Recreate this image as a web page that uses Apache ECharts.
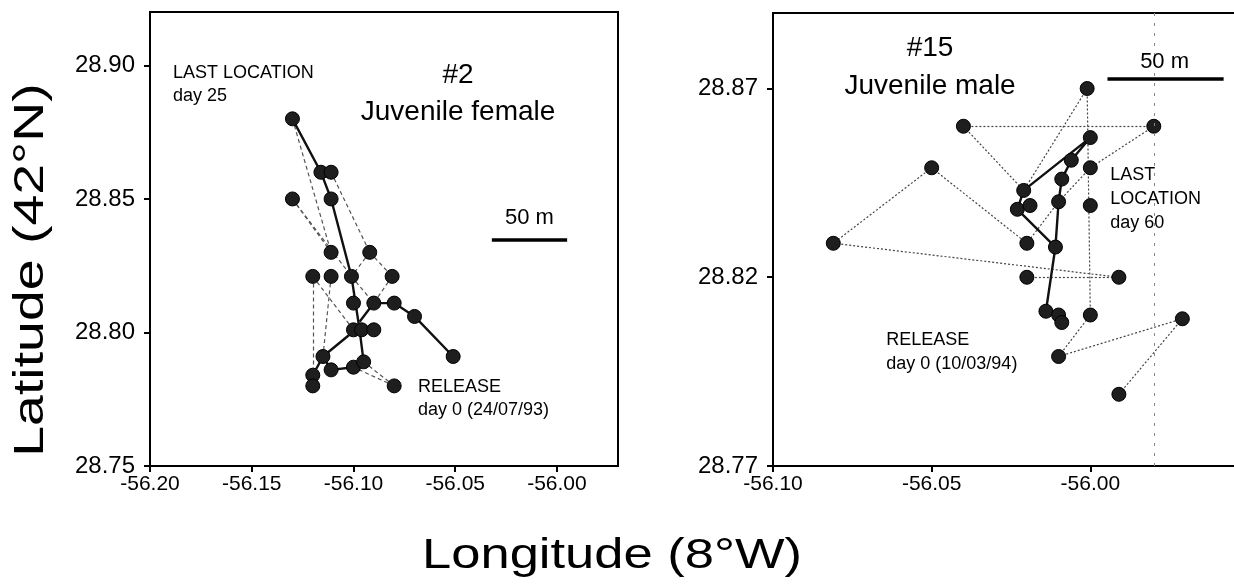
<!DOCTYPE html>
<html>
<head>
<meta charset="utf-8">
<title>Juvenile tracks</title>
<script src="https://cdn.jsdelivr.net/npm/echarts@6.0.0/dist/echarts.min.js"></script>
<style>
  html, body { margin: 0; padding: 0; background: #fff; }
  #main { width: 1234px; height: 585px; }
</style>
</head>
<body>
<div id="main"></div>
<script>
// tick values
var leftXTicks = [-56.20, -56.15, -56.10, -56.05, -56.00];
var leftYTicks = [28.75, 28.80, 28.85, 28.90];
var rightXTicks = [-56.10, -56.05, -56.00];
var rightYTicks = [28.77, 28.82, 28.87];

// #2 juvenile female : fixes (lon, lat)
var femalePoints = [
  [-56.130, 28.880], [-56.116, 28.860], [-56.111, 28.860], [-56.111, 28.850], [-56.130, 28.850],
  [-56.111, 28.830], [-56.092, 28.830],
  [-56.120, 28.821], [-56.111, 28.821], [-56.101, 28.821], [-56.081, 28.821],
  [-56.100, 28.811], [-56.090, 28.811], [-56.080, 28.811], [-56.070, 28.806], [-56.051, 28.791],
  [-56.100, 28.801], [-56.096, 28.801], [-56.090, 28.801],
  [-56.115, 28.791], [-56.111, 28.786], [-56.100, 28.787], [-56.095, 28.789],
  [-56.120, 28.784], [-56.120, 28.780], [-56.080, 28.780]
];
// solid track pieces
var femaleTrack = [
  [[-56.130, 28.880], [-56.116, 28.860], [-56.111, 28.850], [-56.101, 28.821], [-56.097, 28.801], [-56.095, 28.789]],
  [[-56.099, 28.801], [-56.115, 28.791], [-56.120, 28.784], [-56.120, 28.780]],
  [[-56.115, 28.791], [-56.111, 28.786], [-56.100, 28.787], [-56.095, 28.789]],
  [[-56.097, 28.804], [-56.090, 28.811], [-56.080, 28.811], [-56.070, 28.806], [-56.051, 28.791]]
];
// dashed links
var femaleLinks = [
  [[-56.130, 28.880], [-56.111, 28.830]],
  [[-56.130, 28.850], [-56.111, 28.830]],
  [[-56.130, 28.850], [-56.101, 28.821]],
  [[-56.111, 28.860], [-56.092, 28.830]],
  [[-56.092, 28.830], [-56.101, 28.821]],
  [[-56.092, 28.830], [-56.081, 28.821]],
  [[-56.081, 28.821], [-56.090, 28.811]],
  [[-56.101, 28.821], [-56.090, 28.811]],
  [[-56.120, 28.821], [-56.120, 28.784]],
  [[-56.111, 28.821], [-56.115, 28.791]],
  [[-56.120, 28.821], [-56.100, 28.801]],
  [[-56.080, 28.780], [-56.095, 28.789]],
  [[-56.080, 28.780], [-56.100, 28.787]]
];

// #15 juvenile male
var malePoints = [
  [-56.001, 28.870], [-56.040, 28.860], [-55.980, 28.860], [-56.000, 28.857], [-56.006, 28.851],
  [-56.000, 28.849], [-56.050, 28.849], [-56.009, 28.846], [-56.021, 28.843], [-56.023, 28.838],
  [-56.019, 28.839], [-56.010, 28.840], [-56.000, 28.839], [-56.020, 28.829], [-56.011, 28.828],
  [-56.081, 28.829], [-56.020, 28.820], [-55.991, 28.820], [-56.014, 28.811], [-56.010, 28.810],
  [-56.009, 28.808], [-56.000, 28.810], [-55.971, 28.809], [-56.010, 28.799], [-55.991, 28.789]
];
var maleTrack = [
  [[-56.009, 28.808], [-56.010, 28.810], [-56.014, 28.811], [-56.011, 28.828], [-56.010, 28.840],
   [-56.009, 28.846], [-56.006, 28.851], [-56.000, 28.857], [-56.021, 28.843], [-56.023, 28.838], [-56.011, 28.828]]
];
var maleLinks = [
  [[-56.040, 28.860], [-55.980, 28.860]],
  [[-56.040, 28.860], [-56.021, 28.843]],
  [[-56.050, 28.849], [-56.081, 28.829]],
  [[-56.050, 28.849], [-56.020, 28.829]],
  [[-56.081, 28.829], [-55.991, 28.820]],
  [[-56.020, 28.820], [-55.991, 28.820]],
  [[-56.001, 28.870], [-56.000, 28.810]],
  [[-56.001, 28.870], [-56.021, 28.843]],
  [[-55.980, 28.860], [-56.000, 28.849]],
  [[-56.000, 28.849], [-56.010, 28.840]],
  [[-56.010, 28.840], [-56.020, 28.829]],
  [[-56.010, 28.799], [-56.000, 28.810]],
  [[-56.010, 28.799], [-55.971, 28.809]],
  [[-55.971, 28.809], [-55.991, 28.789]]
];

// 50 m scale bars
var femaleBar = [[-56.032, 28.8346], [-55.995, 28.8346]];
var maleBar = [[-55.9946, 28.8725], [-55.958, 28.8725]];

var fmt = function (v) { return v.toFixed(2); };
var FONT = 'Liberation Sans, Arial, sans-serif';

function axisCommon(ticks, size, margin) {
  return {
    type: 'value',
    axisLine: { show: true, onZero: false, lineStyle: { color: '#000', width: 2 } },
    axisTick: { show: true, inside: false, length: 6, customValues: ticks, lineStyle: { color: '#000', width: 2 } },
    axisLabel: { customValues: ticks, formatter: fmt, color: '#000', fontSize: size, fontFamily: FONT, margin: margin },
    splitLine: { show: false }
  };
}

function withRange(base, extra) {
  return Object.assign({}, base, extra);
}

function note(x, y, text, size, align, lh) {
  return {
    value: [x, y],
    label: {
      show: true, formatter: text, position: [0, 0], align: align, verticalAlign: 'top',
      fontSize: size, lineHeight: lh, color: '#000', opacity: 1, fontFamily: FONT
    }
  };
}

function trackSeries(paths, gi) {
  return paths.map(function (p) {
    return {
      type: 'line', xAxisIndex: gi, yAxisIndex: gi, data: p, symbol: 'none', z: 3,
      lineStyle: { color: '#111', width: 2.4 }, silent: true
    };
  });
}

function linkSeries(links, gi, dash, col) {
  return {
    type: 'lines', coordinateSystem: 'cartesian2d', xAxisIndex: gi, yAxisIndex: gi, z: 2, silent: true,
    lineStyle: { color: col, width: 1.2, type: dash, opacity: 1 },
    data: links.map(function (l) { return { coords: l }; })
  };
}

function pointSeries(pts, gi) {
  return {
    type: 'scatter', xAxisIndex: gi, yAxisIndex: gi, data: pts, symbolSize: 14, z: 4, silent: true,
    itemStyle: { color: '#1e1e1e', borderColor: '#000', borderWidth: 1, opacity: 1 }
  };
}

var myChart = echarts.init(document.getElementById('main'), null, { renderer: 'canvas' });

var series = [];
series.push(linkSeries(femaleLinks, 0, [4, 3], '#555'));
series = series.concat(trackSeries(femaleTrack, 0));
series.push(pointSeries(femalePoints, 0));
series.push({
  type: 'line', xAxisIndex: 0, yAxisIndex: 0, data: femaleBar, symbol: 'none', silent: true,
  lineStyle: { color: '#000', width: 3.5 }
});
series.push({
  type: 'scatter', xAxisIndex: 0, yAxisIndex: 0, symbolSize: 0, silent: true, z: 5,
  data: [
    note(-56.1887, 28.9014, 'LAST LOCATION\nday 25', 18, 'left', 23),
    note(-56.0486, 28.9033, '#2\nJuvenile female', 28, 'center', 37),
    note(-56.0135, 28.8473, '50 m', 22, 'center', 24),
    note(-56.0683, 28.7839, 'RELEASE\nday 0 (24/07/93)', 18, 'left', 23)
  ]
});

series.push(linkSeries(maleLinks, 1, [2, 2], '#444'));
series = series.concat(trackSeries(maleTrack, 1));
var mp = pointSeries(malePoints, 1);
mp.markLine = {
  silent: true, symbol: 'none', label: { show: false },
  lineStyle: { color: '#888', width: 1, type: [3, 7] },
  data: [{ xAxis: -55.984 }]
};
series.push(mp);
series.push({
  type: 'line', xAxisIndex: 1, yAxisIndex: 1, data: maleBar, symbol: 'none', silent: true,
  lineStyle: { color: '#000', width: 3.5 }
});
series.push({
  type: 'scatter', xAxisIndex: 1, yAxisIndex: 1, symbolSize: 0, silent: true, z: 5,
  data: [
    note(-56.0505, 28.8858, '#15\nJuvenile male', 28, 'center', 38),
    note(-55.9766, 28.8802, '50 m', 22, 'center', 24),
    note(-55.9937, 28.8503, 'LAST\nLOCATION\nday 60', 18, 'left', 24),
    note(-56.0643, 28.8066, 'RELEASE\nday 0 (10/03/94)', 18, 'left', 24)
  ]
});

var option = {
  backgroundColor: '#fff',
  animation: false,
  grid: [
    { left: 150, top: 12, width: 468, height: 454, show: true, borderColor: '#000', borderWidth: 2, outerBoundsMode: 'none' },
    { left: 773, top: 13, width: 476, height: 453, show: true, borderColor: '#000', borderWidth: 2, outerBoundsMode: 'none' }
  ],
  xAxis: [
    withRange(axisCommon(leftXTicks, 21, 8), { gridIndex: 0, min: -56.20, max: -55.97 }),
    withRange(axisCommon(rightXTicks, 21, 8), { gridIndex: 1, min: -56.10, max: -55.95 })
  ],
  yAxis: [
    withRange(axisCommon(leftYTicks, 24, 15), { gridIndex: 0, min: 28.75, max: 28.92 }),
    withRange(axisCommon(rightYTicks, 24, 15), { gridIndex: 1, min: 28.77, max: 28.89 })
  ],
  graphic: [
    {
      type: 'text', x: 31, y: 270, rotation: Math.PI / 2, scaleX: 1.32,
      style: { text: 'Latitude (42°N)', fontSize: 42, fontFamily: FONT, fill: '#000', align: 'center', verticalAlign: 'middle' }
    },
    {
      type: 'text', x: 612, y: 556, scaleX: 1.25,
      style: { text: 'Longitude (8°W)', fontSize: 42, fontFamily: FONT, fill: '#000', align: 'center', verticalAlign: 'middle' }
    }
  ],
  series: series
};

myChart.setOption(option);
window.addEventListener('resize', function () {
  myChart.resize();
});
</script>
</body>
</html>
